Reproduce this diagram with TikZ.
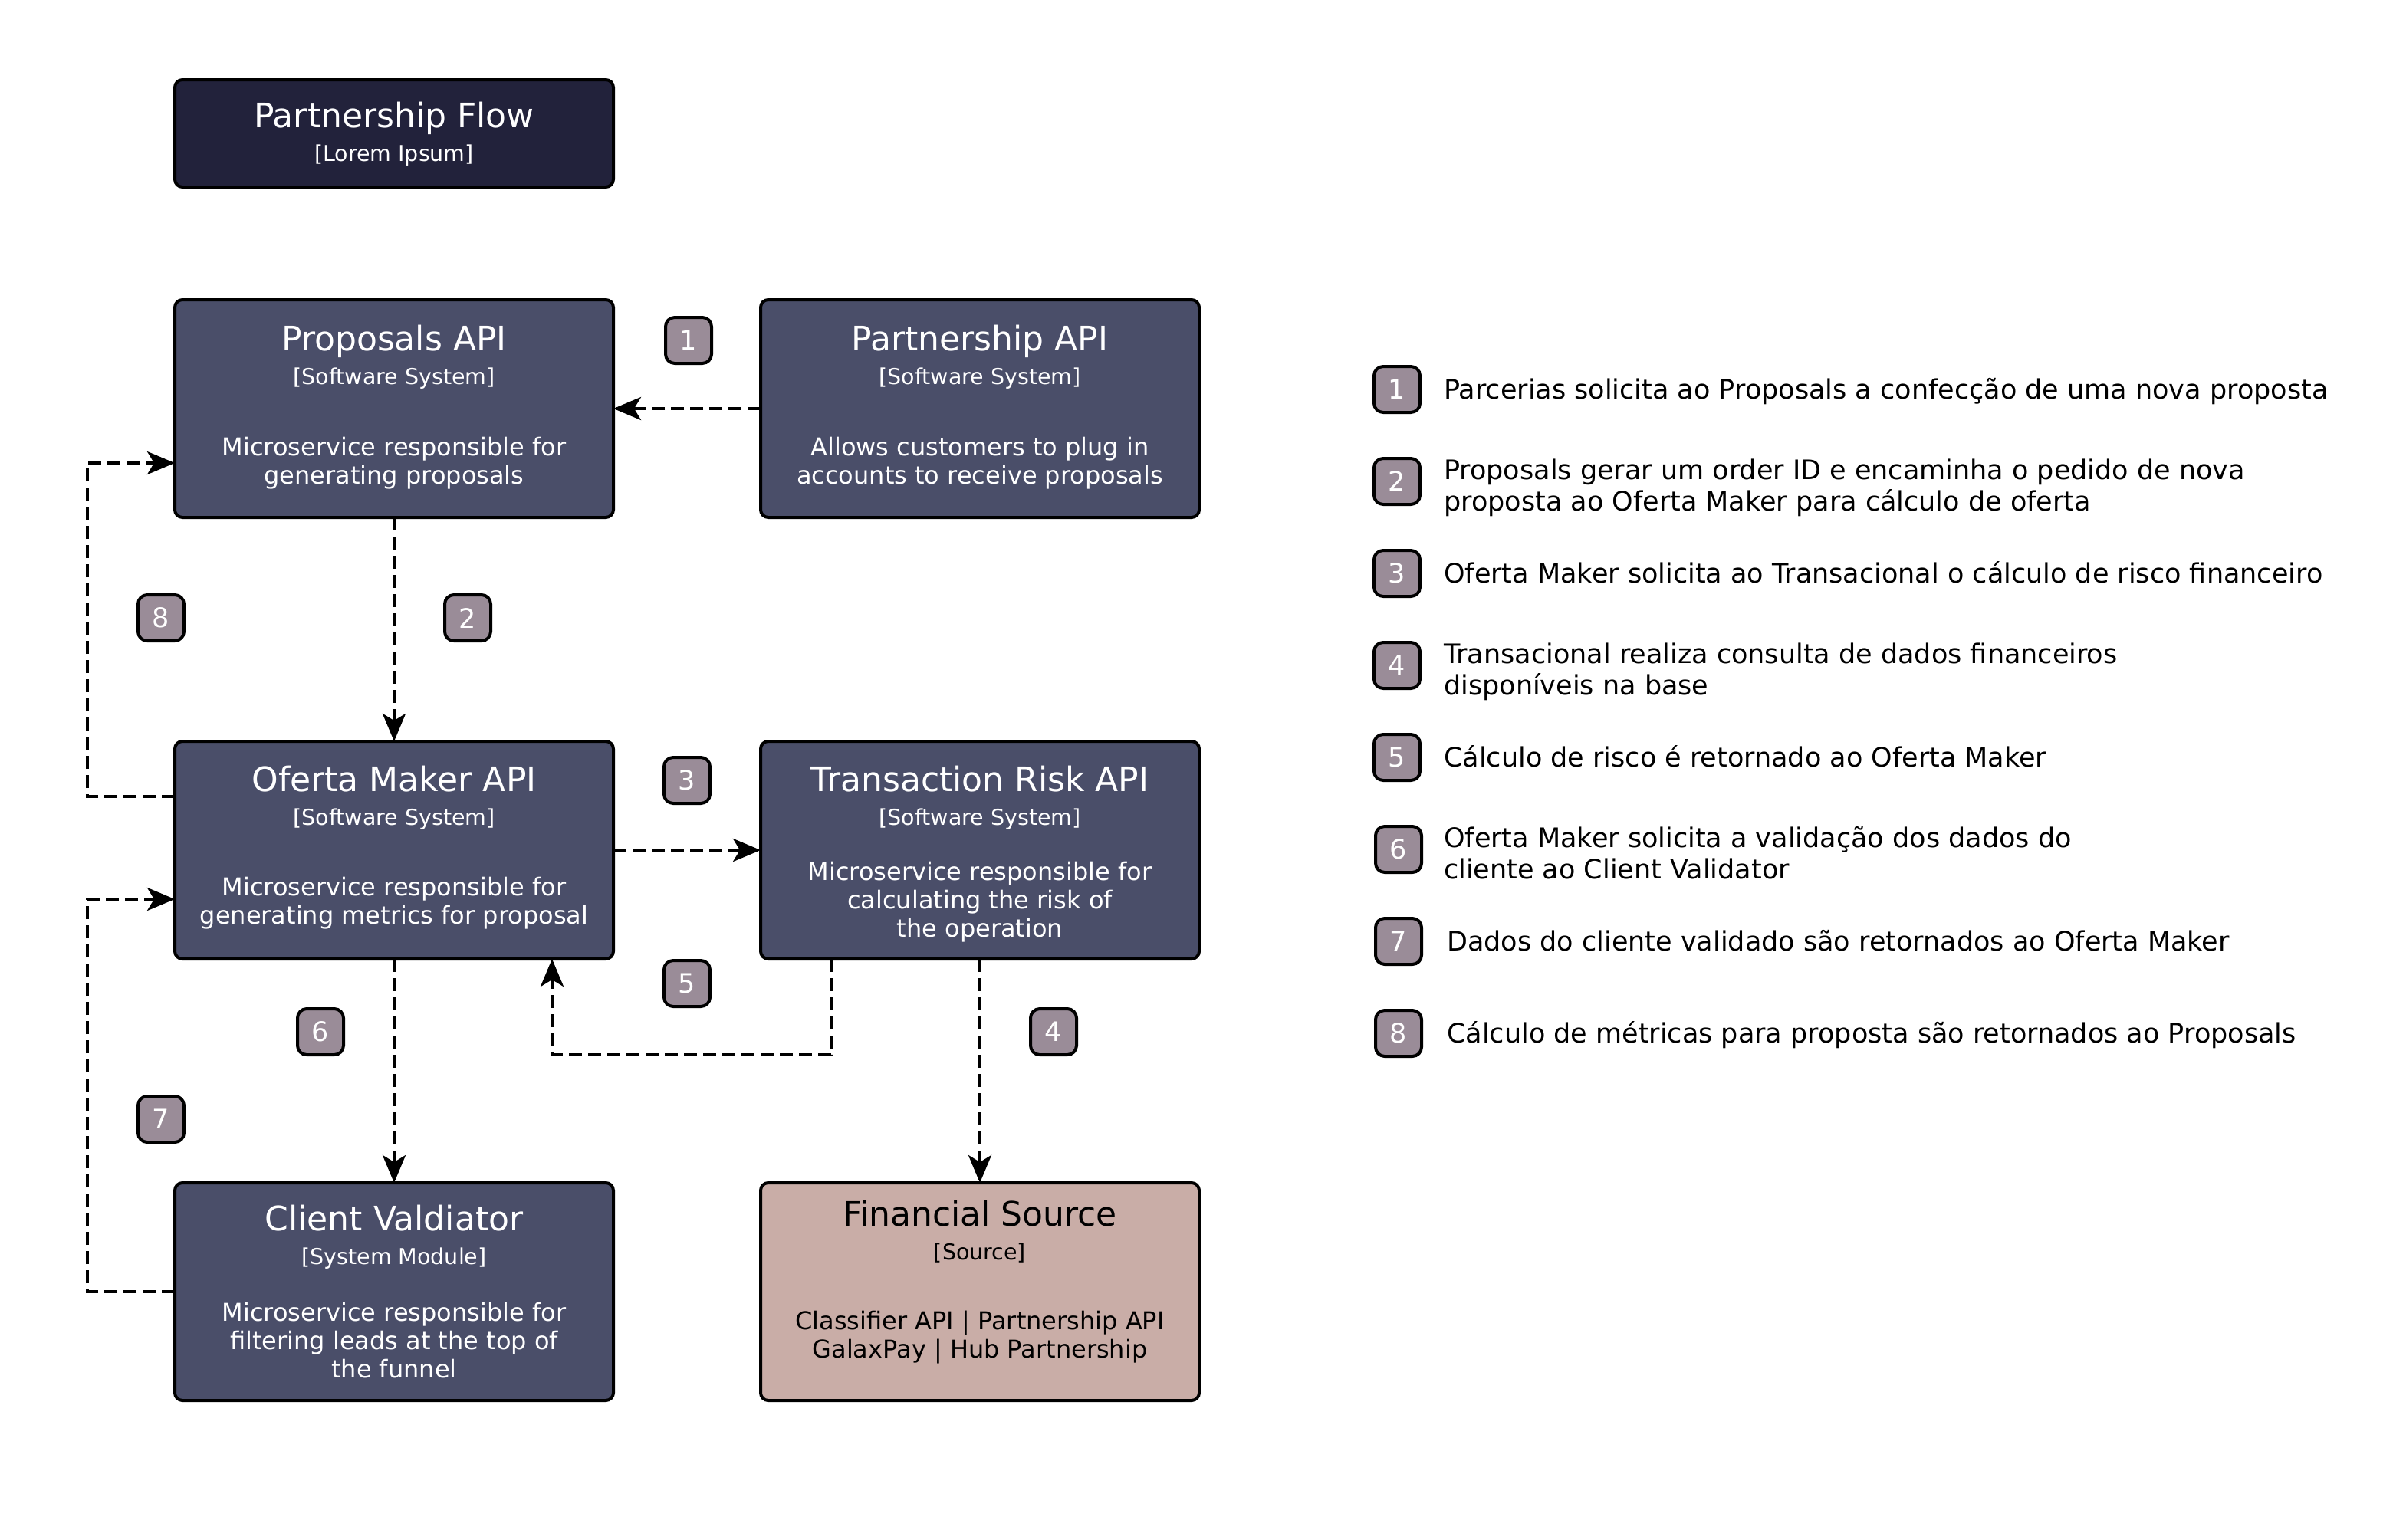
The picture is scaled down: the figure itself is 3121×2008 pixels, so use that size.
\documentclass[tikz,border=0pt]{standalone}
\usepackage{fontspec}
\setmainfont{DejaVu Sans}
\usetikzlibrary{arrows.meta,calc}
\definecolor{navy}{HTML}{22223B}
\definecolor{slate}{HTML}{4A4E69}
\definecolor{mauve}{HTML}{9A8C98}
\definecolor{rose}{HTML}{C9ADA7}
\newcommand{\fsz}[2]{\fontsize{#1}{#2}\selectfont}
\begin{document}
\begin{tikzpicture}[x=1pt,y=-1pt,
  sysbox/.style={draw=black, line width=4pt, rounded corners=10pt, fill=slate,
    minimum width=572pt, minimum height=284pt, inner sep=0pt, outer sep=0pt},
  srcbox/.style={sysbox, fill=rose},
  flowbox/.style={sysbox, fill=navy, minimum height=140pt},
  ttl/.style={anchor=base, inner sep=0pt, text=white, font=\fsz{44}{52}},
  sub/.style={anchor=base, inner sep=0pt, text=white, font=\fsz{28.5}{34}},
  body/.style={anchor=base, inner sep=0pt, text=white, align=center, font=\fsz{32}{37}},
  badge/.style={draw=black, line width=4pt, rounded corners=12pt, fill=mauve,
    minimum size=60pt, inner sep=0pt, outer sep=0pt, text=white, font=\fsz{35}{40}},
  legtext/.style={anchor=base west, inner sep=0pt, text=black, align=left, font=\fsz{35}{41}},
  conn/.style={draw=black, line width=4pt, dash pattern=on 17pt off 8pt,
    -{Stealth[length=36pt,width=30pt,inset=9pt]}}
]
\useasboundingbox[fill=white] (0,0) rectangle (3121,2008);

% title box
\node[flowbox] (flow) at (514,174) {};
\node[ttl] (flowT) at ($(flow.north)+(0,62)$) {Partnership Flow};
\node[sub] (flowS) at ($(flow.north)+(0,106)$) {[Lorem Ipsum]};

% systems (base anchor of multi-line text = last line's baseline)
\node[sysbox] (prop) at (514,533) {};
\node[ttl] (propT) at ($(prop.north)+(0,66)$) {Proposals API};
\node[sub] (propS) at ($(prop.north)+(0,110)$) {[Software System]};
\node[body] (propB) at ($(prop.north)+(0,240)$) {Microservice responsible for\\generating proposals};

\node[sysbox] (part) at (1278,533) {};
\node[ttl] (partT) at ($(part.north)+(0,66)$) {Partnership API};
\node[sub] (partS) at ($(part.north)+(0,110)$) {[Software System]};
\node[body] (partB) at ($(part.north)+(0,240)$) {Allows customers to plug in\\accounts to receive proposals};

\node[sysbox] (ofm) at (514,1109) {};
\node[ttl] (ofmT) at ($(ofm.north)+(0,65)$) {Oferta Maker API};
\node[sub] (ofmS) at ($(ofm.north)+(0,109)$) {[Software System]};
\node[body] (ofmB) at ($(ofm.north)+(0,238)$) {Microservice responsible for\\generating metrics for proposal};

\node[sysbox] (trk) at (1278,1109) {};
\node[ttl] (trkT) at ($(trk.north)+(0,65)$) {Transaction Risk API};
\node[sub] (trkS) at ($(trk.north)+(0,109)$) {[Software System]};
\node[body] (trkB) at ($(trk.north)+(0,255)$) {Microservice responsible for\\calculating the risk of\\the operation};

\node[sysbox] (cli) at (514,1685) {};
\node[ttl] (cliT) at ($(cli.north)+(0,62)$) {Client Valdiator};
\node[sub] (cliS) at ($(cli.north)+(0,106)$) {[System Module]};
\node[body] (cliB) at ($(cli.north)+(0,254)$) {Microservice responsible for\\filtering leads at the top of\\the funnel};

\node[srcbox] (fin) at (1278,1685) {};
\node[ttl, text=black] (finT) at ($(fin.north)+(0,56)$) {Financial Source};
\node[sub, text=black] (finS) at ($(fin.north)+(0,100)$) {[Source]};
\node[body, text=black] (finB) at ($(fin.north)+(0,228)$) {Classifier API | Partnership API\\GalaxPay | Hub Partnership};

% connectors
\draw[conn] (part.west) -- (prop.east);
\draw[conn] (prop.south) -- (ofm.north);
\draw[conn] (ofm.east) -- (trk.west);
\draw[conn] (trk.south) -- (fin.north);
\draw[conn] (ofm.south) -- (cli.north);
\draw[conn] ($(trk.south)+(-194,0)$) -- ++(0,125) -| ($(ofm.south)+(206,0)$);
\draw[conn] ($(ofm.west)+(0,-70)$) -- ++(-114,0) |- ($(prop.west)+(0,71)$);
\draw[conn] (cli.west) -- ++(-114,0) |- ($(ofm.west)+(0,64)$);

% step badges
\node[badge] (b1) at (898,444) {1};
\node[badge] (b2) at (610,806) {2};
\node[badge] (b8) at (210,806) {8};
\node[badge] (b3) at (896,1018) {3};
\node[badge] (b5) at (896,1283) {5};
\node[badge] (b6) at (418,1346) {6};
\node[badge] (b4) at (1374,1346) {4};
\node[badge] (b7) at (210,1460) {7};

% legend
\node[badge] (l1) at (1822,508) {1};
\node[legtext] (t1) at (1883,520) {Parcerias solicita ao Proposals a confecção de uma nova proposta};
\node[badge] (l2) at (1822,628) {2};
\node[legtext] (t2) at (1883,666) {Proposals gerar um order ID e encaminha o pedido de nova\\proposta ao Oferta Maker para cálculo de oferta};
\node[badge] (l3) at (1822,748) {3};
\node[legtext] (t3) at (1883,760) {Oferta Maker solicita ao Transacional o cálculo de risco financeiro};
\node[badge] (l4) at (1822,868) {4};
\node[legtext] (t4) at (1883,906) {Transacional realiza consulta de dados financeiros\\disponíveis na base};
\node[badge] (l5) at (1822,988) {5};
\node[legtext] (t5) at (1883,1000) {Cálculo de risco é retornado ao Oferta Maker};
\node[badge] (l6) at (1824,1108) {6};
\node[legtext] (t6) at (1883,1146) {Oferta Maker solicita a validação dos dados do\\cliente ao Client Validator};
\node[badge] (l7) at (1824,1228) {7};
\node[legtext] (t7) at (1887,1240) {Dados do cliente validado são retornados ao Oferta Maker};
\node[badge] (l8) at (1824,1348) {8};
\node[legtext] (t8) at (1887,1360) {Cálculo de métricas para proposta são retornados ao Proposals};
\end{tikzpicture}
\end{document}
